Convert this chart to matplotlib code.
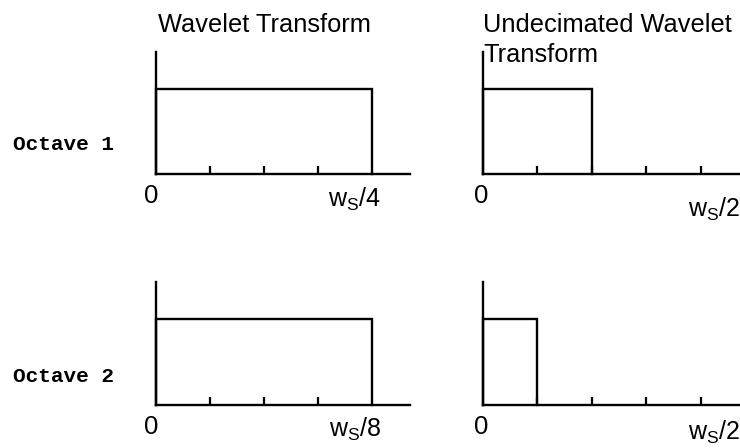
import matplotlib
matplotlib.use("Agg")
import matplotlib.pyplot as plt

plt.rcParams["font.family"] = ["Liberation Sans", "DejaVu Sans"]
plt.rcParams["mathtext.fontset"] = "custom"
plt.rcParams["mathtext.rm"] = "Liberation Sans"
plt.rcParams["mathtext.it"] = "Liberation Sans"

# Passband widths (in tick units) for each octave
octaves = ["Octave 1", "Octave 2"]
wt_widths = [4, 4]          # decimated transform: full band of the resampled signal
uwt_widths = [2, 1]         # undecimated transform: band shrinks by half per octave
band_height = 1.0
wt_end_labels = [r"w$_\mathrm{S}$/4", r"w$_\mathrm{S}$/8"]
uwt_end_label = r"w$_\mathrm{S}$/2"
col_titles = ["Wavelet Transform", "Undecimated Wavelet", "Transform"]

W, H = 740, 448
fig = plt.figure(figsize=(W / 100, H / 100), dpi=100)


def px_axes(left, right, base, top):
    return fig.add_axes([left / W, (H - base) / H, (right - left) / W, (base - top) / H])


def style(ax, ticks, xmax):
    ax.set_xlim(0, xmax)
    ax.set_ylim(0, 1.435)
    for s in ("top", "right"):
        ax.spines[s].set_visible(False)
    for s in ("left", "bottom"):
        ax.spines[s].set_linewidth(1.7)
    ax.set_xticks(ticks)
    ax.set_xticklabels([])
    ax.set_yticks([])
    ax.tick_params(axis="x", direction="in", length=6, width=1.6)
    ax.patch.set_alpha(0)


def band(ax, w):
    ax.plot([0, 0, w, w], [0, band_height, band_height, 0], color="black",
            lw=1.7, clip_on=False, solid_joinstyle="miter")


rows = [(174, 52), (405, 282)]
lab_y = [(-0.18, -0.21, -0.29), (-0.18, -0.20, -0.225)]
for i, (base, top) in enumerate(rows):
    axl = px_axes(155.7, 410, base, top)
    style(axl, [1, 2, 3], 4.7)
    band(axl, wt_widths[i])
    tr = axl.get_xaxis_transform()
    axl.text(-0.08, lab_y[i][0], "0", transform=tr, ha="center", va="center", fontsize=18.5)
    axl.text(3.68, lab_y[i][1], wt_end_labels[i], transform=tr, ha="center", va="center", fontsize=18)

    axr = px_axes(483, 740, base, top)
    style(axr, [1, 2, 3, 4], 4.72)
    band(axr, uwt_widths[i])
    tr = axr.get_xaxis_transform()
    axr.text(-0.04, lab_y[i][0], "0", transform=tr, ha="center", va="center", fontsize=18.5)
    axr.text(4.24, lab_y[i][2], uwt_end_label, transform=tr, ha="center", va="center", fontsize=18)

    fig.text(13 / W, 1 - (144 + 232 * i) / H, octaves[i], ha="left", va="center",
             family=["Liberation Mono", "DejaVu Sans Mono"], fontweight="bold", fontsize=15.2)

fig.text(158 / W, 1 - 25 / H, col_titles[0], ha="left", va="center", fontsize=18.3)
fig.text(483 / W, 1 - 25 / H, col_titles[1], ha="left", va="center", fontsize=18.3)
fig.text(483 / W, 1 - 55 / H, col_titles[2], ha="left", va="center", fontsize=18.3)

fig.savefig("out.png", dpi=100)
